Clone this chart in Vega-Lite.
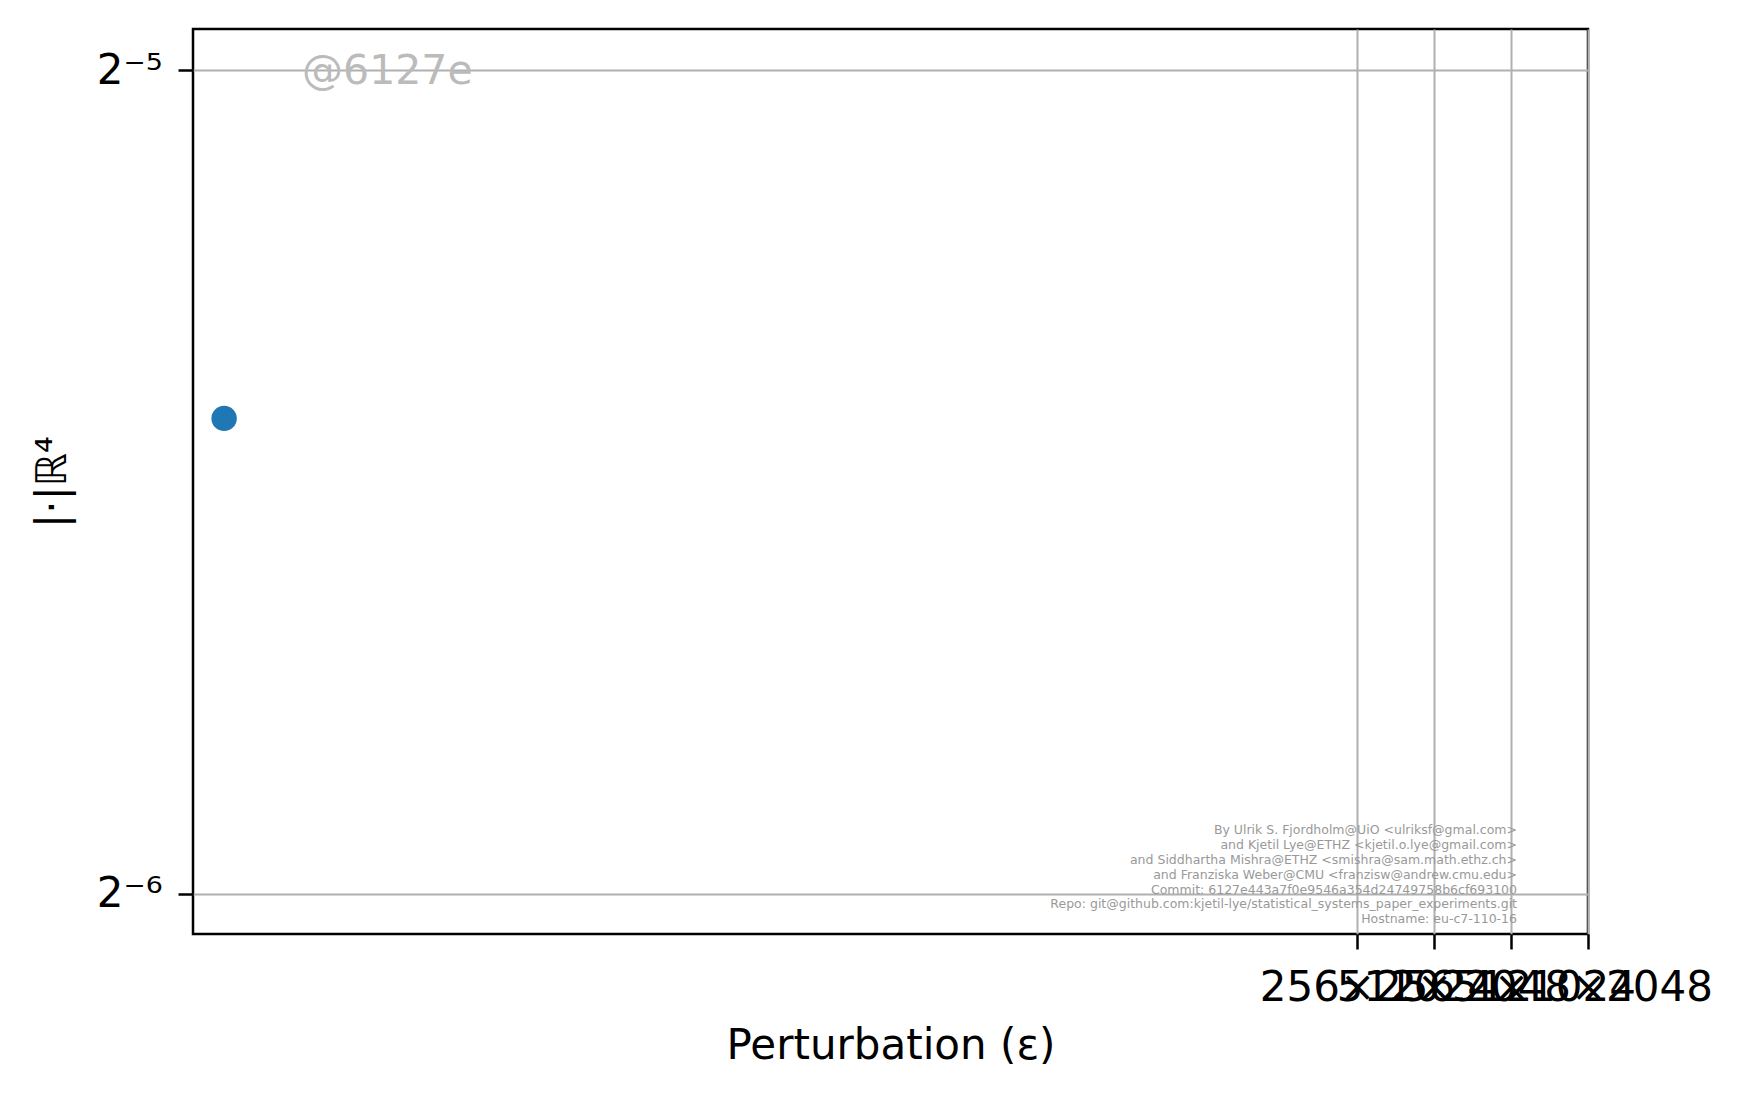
{
  "$schema": "https://vega.github.io/schema/vega-lite/v6.json",
  "autosize": {"type": "none"},
  "width": 1395,
  "height": 905,
  "padding": {"left": 193, "top": 29, "right": 160, "bottom": 161},
  "background": "white",
  "config": {
    "font": "DejaVu Sans",
    "view": {"stroke": "black", "strokeWidth": 2.5},
    "axis": {
      "domain": false,
      "grid": true,
      "gridColor": "#b0b0b0",
      "gridWidth": 2,
      "ticks": true,
      "tickColor": "black",
      "tickWidth": 2.5,
      "tickSize": 15,
      "labelFont": "DejaVu Sans",
      "labelFontSize": 42,
      "labelColor": "black",
      "labelLimit": 0,
      "titleFont": "DejaVu Sans",
      "titleFontSize": 42,
      "titleFontWeight": "normal",
      "titleColor": "black",
      "labelOverlap": false,
      "labelFlush": false
    }
  },
  "layer": [
    {
      "data": {"values": [{"perturbation": 0.00954, "norm": 0.02331}]},
      "mark": {"type": "circle", "size": 645, "opacity": 1, "color": "#1f77b4"},
      "encoding": {
        "x": {
          "field": "perturbation",
          "type": "quantitative",
          "scale": {"type": "log", "base": 2, "domain": [0.00721, 2048], "nice": false, "zero": false},
          "axis": {
            "title": "Perturbation (ε)",
            "values": [256, 512, 1024, 2048],
            "labelExpr": "datum.value + '×' + datum.value",
            "labelPadding": 18,
            "titlePadding": 17
          }
        },
        "y": {
          "field": "norm",
          "type": "quantitative",
          "scale": {"type": "log", "base": 2, "domain": [0.015102, 0.032352], "nice": false, "zero": false},
          "axis": {
            "title": "|·|ℝ⁴",
            "values": [0.015625, 0.03125],
            "labelExpr": "datum.value < 0.02 ? '2⁻⁶' : '2⁻⁵'",
            "labelPadding": 16,
            "titlePadding": 22
          }
        }
      }
    },
    {
      "data": {"values": [{"perturbation": 0.01924, "norm": 0.0309, "label": "@6127e"}]},
      "mark": {"type": "text", "align": "left", "baseline": "alphabetic", "fontSize": 41, "color": "#bbbbbb", "font": "DejaVu Sans"},
      "encoding": {
        "x": {"field": "perturbation", "type": "quantitative"},
        "y": {"field": "norm", "type": "quantitative"},
        "text": {"field": "label"}
      }
    },
    {
      "data": {"values": [{"perturbation": 1081, "norm": 0.016562, "label": "By Ulrik S. Fjordholm@UiO <ulriksf@gmal.com>\nand Kjetil Lye@ETHZ <kjetil.o.lye@gmail.com>\nand Siddhartha Mishra@ETHZ <smishra@sam.math.ethz.ch>\nand Franziska Weber@CMU <franzisw@andrew.cmu.edu>\nCommit: 6127e443a7f0e9546a354d24749758b6cf693100\nRepo: git@github.com:kjetil-lye/statistical_systems_paper_experiments.git\nHostname: eu-c7-110-16"}]},
      "mark": {"type": "text", "align": "right", "baseline": "top", "fontSize": 12.5, "lineHeight": 14.8, "lineBreak": "\n", "color": "#999999", "font": "DejaVu Sans"},
      "encoding": {
        "x": {"field": "perturbation", "type": "quantitative"},
        "y": {"field": "norm", "type": "quantitative"},
        "text": {"field": "label"}
      }
    }
  ]
}
